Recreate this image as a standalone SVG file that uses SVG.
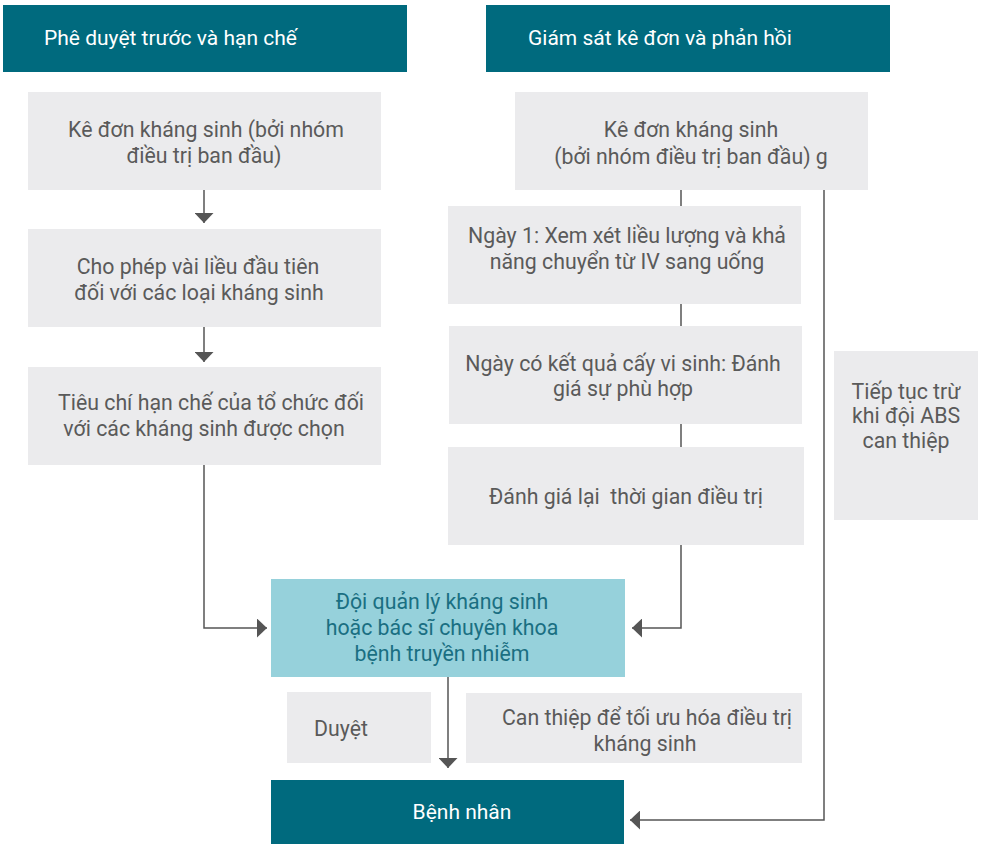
<svg xmlns="http://www.w3.org/2000/svg" width="984" height="844" viewBox="0 0 984 844">
<defs>
<style>
.hdr{fill:#006a7e}
.box{fill:#ebebed}
.blue{fill:#96d1db}
text{font-family:Roboto,"Noto Sans","Liberation Sans",sans-serif;font-size:21.3px}
.w{fill:#ffffff;font-size:21px}
.g{fill:#5a5a5a;text-anchor:middle}
.t{fill:#1a6f82;text-anchor:middle}
.ln{fill:none;stroke:#555555;stroke-width:1.5}
</style>
<marker id="ahd" viewBox="0 0 10 10" refX="10" refY="5" markerWidth="10" markerHeight="19" markerUnits="userSpaceOnUse" orient="auto" preserveAspectRatio="none">
<path d="M0,0 L10,5 L0,10 Z" fill="#555555"/>
</marker>
</defs>
<rect width="984" height="844" fill="#ffffff"/>

<g id="connectors">
<path class="ln" d="M204,190 V223" marker-end="url(#ahd)"/>
<path class="ln" d="M204,327 V362" marker-end="url(#ahd)"/>
<path class="ln" d="M204,465 V628 H267" marker-end="url(#ahd)"/>
<path class="ln" d="M681,190 V206 M681,304 V326 M681,424 V447 M681,545 V628 H632" marker-end="url(#ahd)"/>
<path class="ln" d="M824,190 V820 H630" marker-end="url(#ahd)"/>
<path class="ln" d="M448,677 V768" marker-end="url(#ahd)"/>
</g>

<g id="hdr-left">
<rect class="hdr" x="3" y="5" width="404" height="67"/>
<text class="w" x="44" y="45">Phê duyệt trước và hạn chế</text>
</g>
<g id="hdr-right">
<rect class="hdr" x="486" y="5" width="404" height="67"/>
<text class="w" x="528" y="45">Giám sát kê đơn và phản hồi</text>
</g>

<g id="l1">
<rect class="box" x="28" y="92" width="353" height="98"/>
<text class="g" x="206" y="137">Kê đơn kháng sinh (bởi nhóm</text>
<text class="g" x="204" y="163">điều trị ban đầu)</text>
</g>
<g id="l2">
<rect class="box" x="28" y="229" width="353" height="98"/>
<text class="g" x="198" y="274">Cho phép vài liều đầu tiên</text>
<text class="g" x="199" y="300">đối với các loại kháng sinh</text>
</g>
<g id="l3">
<rect class="box" x="28" y="367" width="353" height="98"/>
<text class="g" x="211" y="410">Tiêu chí hạn chế của tổ chức đối</text>
<text class="g" x="204" y="436">với các kháng sinh được chọn</text>
</g>

<g id="r1">
<rect class="box" x="515" y="92" width="353" height="98"/>
<text class="g" x="691" y="137">Kê đơn kháng sinh</text>
<text class="g" x="691" y="164">(bởi nhóm điều trị ban đầu) g</text>
</g>
<g id="r2">
<rect class="box" x="448" y="206" width="353" height="98"/>
<text class="g" x="627" y="243">Ngày 1: Xem xét liều lượng và khả</text>
<text class="g" x="627" y="269">năng chuyển từ IV sang uống</text>
</g>
<g id="r3">
<rect class="box" x="449" y="326" width="353" height="98"/>
<text class="g" x="623" y="371">Ngày có kết quả cấy vi sinh: Đánh</text>
<text class="g" x="623" y="396">giá sự phù hợp</text>
</g>
<g id="r4">
<rect class="box" x="448" y="447" width="356" height="98"/>
<text class="g" x="626" y="504" xml:space="preserve">Đánh giá lại  thời gian điều trị</text>
</g>

<g id="cont">
<rect class="box" x="834" y="351" width="144" height="169"/>
<text class="g" x="906" y="399">Tiếp tục trừ</text>
<text class="g" x="906" y="423">khi đội ABS</text>
<text class="g" x="906" y="448">can thiệp</text>
</g>

<g id="team">
<rect class="blue" x="271" y="579" width="354" height="98"/>
<text class="t" x="442" y="609">Đội quản lý kháng sinh</text>
<text class="t" x="442" y="635">hoặc bác sĩ chuyên khoa</text>
<text class="t" x="442" y="661">bệnh truyền nhiễm</text>
</g>

<g id="approve">
<rect class="box" x="287" y="692" width="144" height="71"/>
<text class="g" x="341" y="736">Duyệt</text>
</g>
<g id="intervene">
<rect class="box" x="466" y="693" width="336" height="70"/>
<text class="g" x="647" y="725">Can thiệp để tối ưu hóa điều trị</text>
<text class="g" x="645" y="751">kháng sinh</text>
</g>

<g id="patient">
<rect class="hdr" x="271" y="780" width="353" height="64"/>
<text class="w" x="462" y="819" text-anchor="middle">Bệnh nhân</text>
</g>
</svg>
